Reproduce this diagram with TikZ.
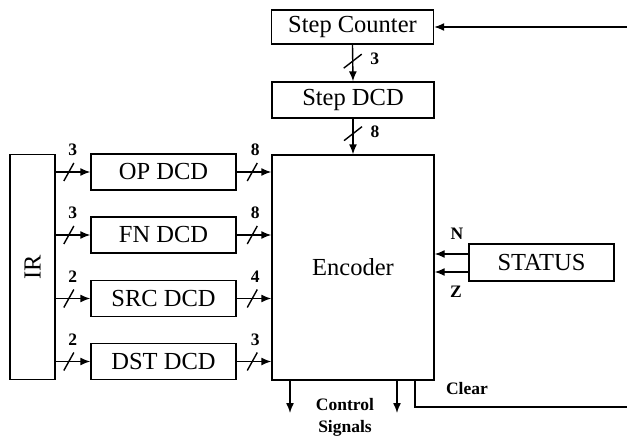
\documentclass[tikz,border=0pt]{standalone}
\usepackage{fontspec}
\setmainfont{Liberation Serif}
\usetikzlibrary{arrows.meta}
\begin{document}
\begin{tikzpicture}[x=1pt,y=-1pt,
  blk/.style={draw,line width=1.4pt,inner sep=0pt,font=\fontsize{24.5}{28}\selectfont},
  arr/.style={line width=1.4pt,-{Latex[length=10pt,width=8pt]}},
  wire/.style={line width=1.4pt},
  lbl/.style={font=\fontsize{17.5}{20}\selectfont\bfseries,inner sep=0pt}]
\useasboundingbox (0,0) rectangle (627,439);

% blocks
\node[blk,minimum width=162,minimum height=34] (cnt) at (352.5,27) {Step Counter};
\node[blk,minimum width=162,minimum height=36] (sdcd) at (353,100) {Step DCD};
\node[blk,minimum width=162,minimum height=225] (enc) at (353,267.5) {Encoder};
\node[blk,minimum width=45,minimum height=225] (ir) at (32.5,267) {\rotatebox{90}{IR}};
\node[blk,minimum width=145,minimum height=36] (op) at (163.5,172) {OP DCD};
\node[blk,minimum width=145,minimum height=36] (fn) at (163.5,235) {FN DCD};
\node[blk,minimum width=145,minimum height=36] (src) at (163.5,298.5) {SRC DCD};
\node[blk,minimum width=145,minimum height=36] (dst) at (163.5,361.5) {DST DCD};
\node[blk,minimum width=145,minimum height=37] (st) at (541.5,262.5) {STATUS};

% step counter chain
\coordinate (clkin) at (627,27);
\draw[arr] (clkin) -- (cnt.east);
\draw[arr] (cnt.south) -- coordinate[pos=.45] (v1) (sdcd.north);
\draw[wire] (v1) ++(-9,7) -- ++(18,-14);
\node[lbl] at ([shift={(22,-2)}]v1) {3};
\draw[arr] (sdcd.south) -- coordinate[pos=.42] (v2) (enc.north);
\draw[wire] (v2) ++(-9,7) -- ++(18,-14);
\node[lbl] at ([shift={(22,-2)}]v2) {8};

% IR to decoders to encoder
\foreach \b/\l/\r in {op/3/8, fn/3/8, src/2/4, dst/2/3}{
  \draw[arr] (\b.west -| ir.east) -- coordinate[pos=.38] (sl) (\b.west);
  \draw[wire] (sl) ++(-5,9) -- ++(10,-18);
  \node[lbl] at ([shift={(4,-22)}]sl) {\l};
  \draw[arr] (\b.east) -- coordinate[pos=.45] (sr) (\b.east -| enc.west);
  \draw[wire] (sr) ++(-5,9) -- ++(10,-18);
  \node[lbl] at ([shift={(3,-22)}]sr) {\r};
}

% status flags
\draw[arr] ([yshift=-9.5]st.west) -- ([yshift=-9.5]st.west -| enc.east);
\draw[arr] ([yshift=8.5]st.west) -- ([yshift=8.5]st.west -| enc.east);
\node[lbl] (nl) at (457,234) {N};
\node[lbl] (zl) at (456,292) {Z};

% outputs
\coordinate (o1) at (290,413);
\coordinate (o2) at (397,413);
\draw[arr] (o1 |- enc.south) -- (o1);
\draw[arr] (o2 |- enc.south) -- (o2);
\coordinate (clr) at (627,407);
\draw[wire] (415,0 |- enc.south) -- (415,407) -- (clr);
\node[lbl] (cl) at (467,389) {Clear};
\node[lbl,align=center,font=\fontsize{17.5}{22}\selectfont\bfseries] (cs) at (345,417) {Control\\Signals};
\end{tikzpicture}
\end{document}
